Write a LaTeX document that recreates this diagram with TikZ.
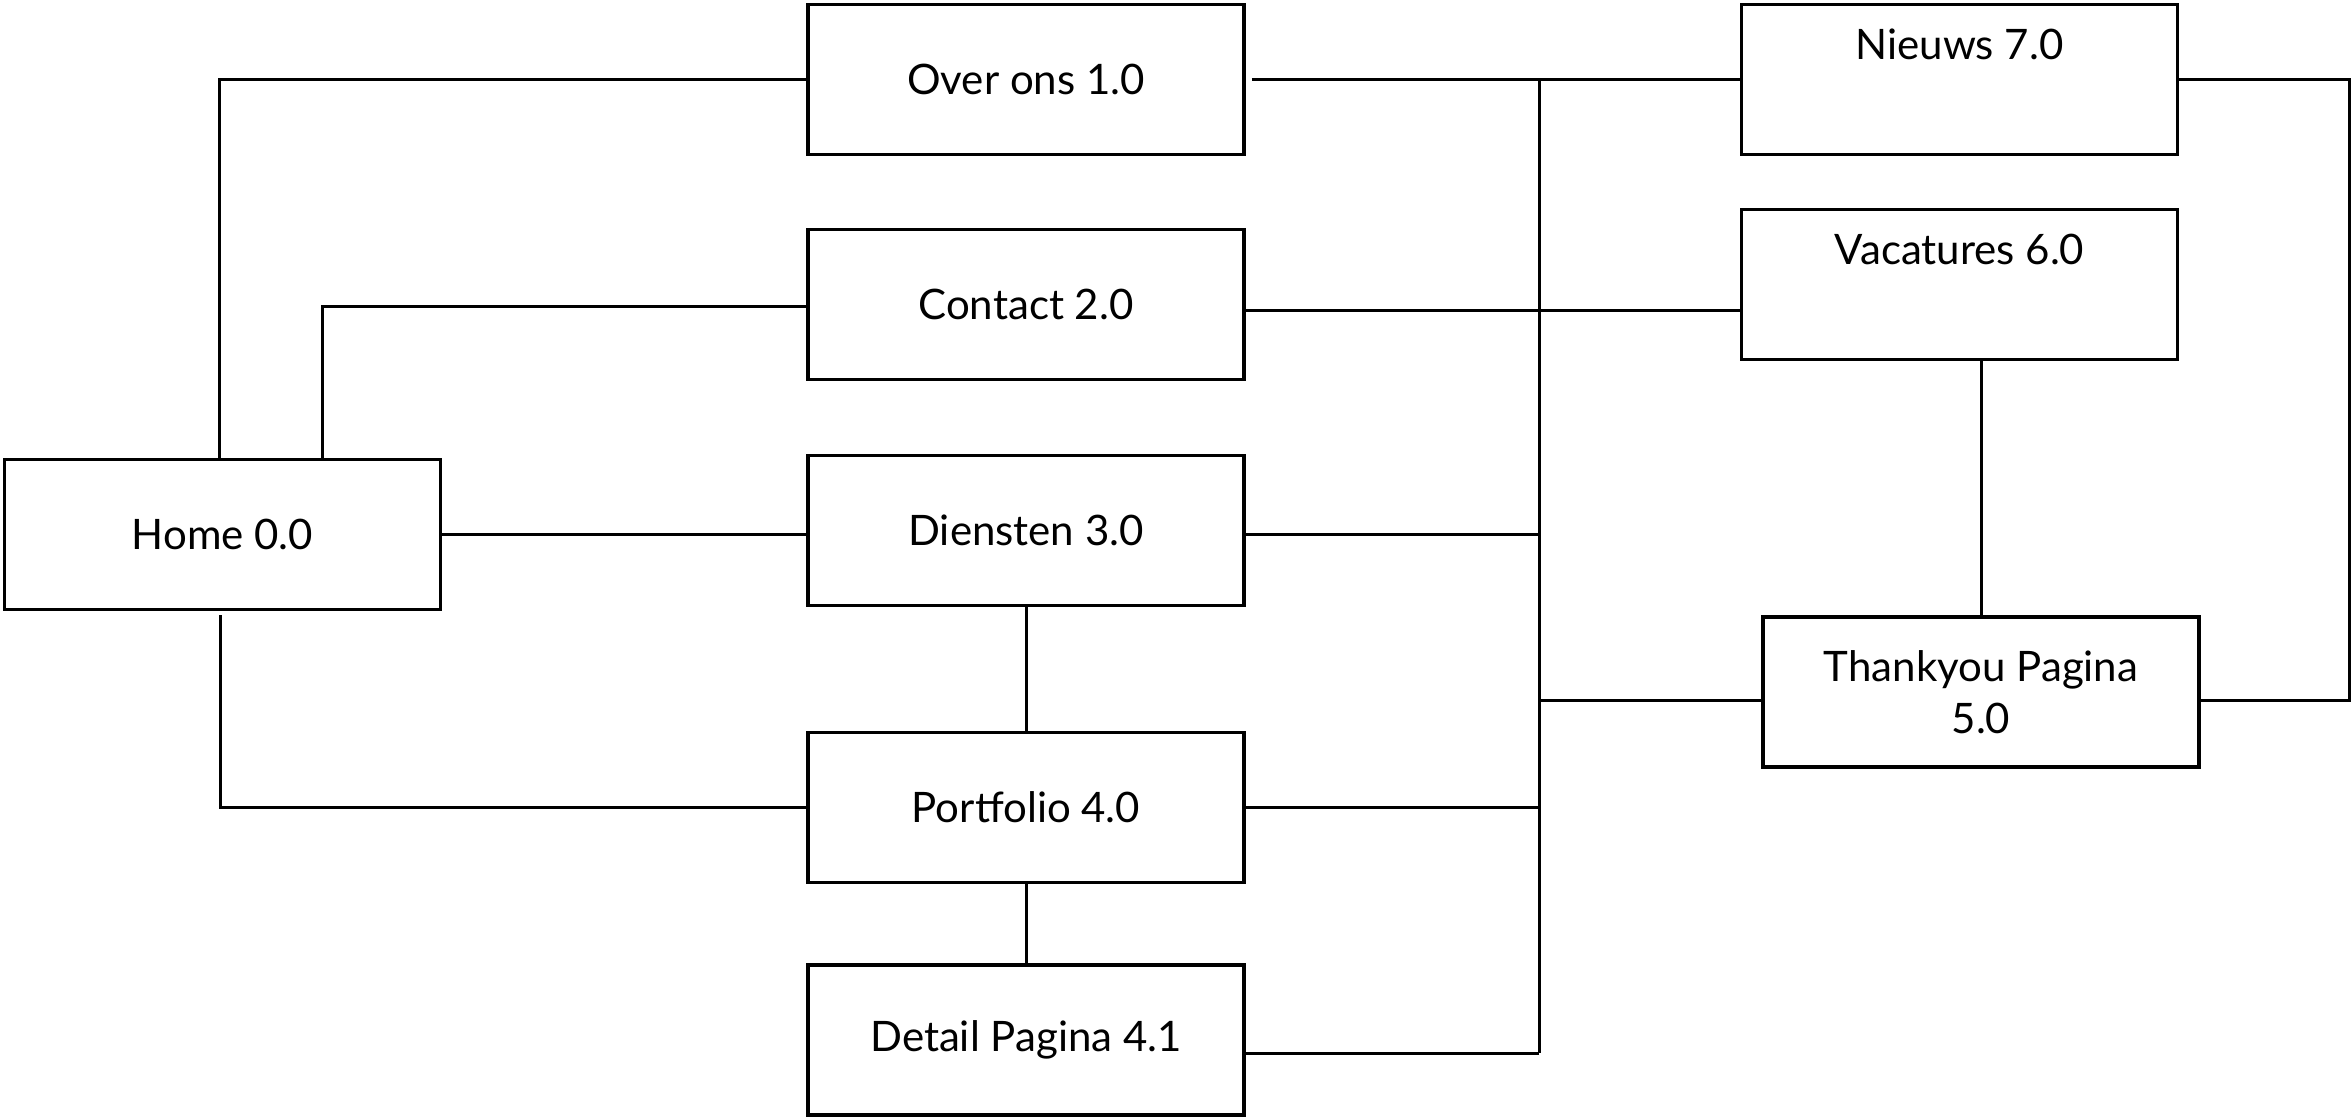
\documentclass[tikz,border=0pt]{standalone}
\usepackage{fontspec}
\setmainfont{Lato}
\begin{document}
\begin{tikzpicture}[x=1pt,y=-1pt,
  box/.style={draw, line width=3.5pt, minimum width=436pt, minimum height=150pt,
    inner sep=0pt, align=center, font=\fontsize{42}{52}\selectfont},
  toplabel/.style={label={[font=\fontsize{42}{52}\selectfont, anchor=north, inner sep=0pt, yshift=-26pt]north:#1}},
  link/.style={line width=3pt}]
\useasboundingbox (0,0) rectangle (2351,1118);
\node[box] (home) at (222.5,534.5) {Home 0.0};
\node[box] (over) at (1026,79.5) {Over ons 1.0};
\node[box] (contact) at (1026,304.5) {Contact 2.0};
\node[box] (diensten) at (1026,530.5) {Diensten 3.0};
\node[box] (portfolio) at (1026,807.5) {Portfolio 4.0};
\node[box] (detail) at (1026,1040) {Detail Pagina 4.1};
\node[box, toplabel={Nieuws 7.0}] (nieuws) at (1959.5,79.5) {};
\node[box, toplabel={Vacatures 6.0}] (vac) at (1959.5,284.5) {};
\node[box] (thank) at (1981,692) {Thankyou Pagina\\5.0};
\coordinate (bustop) at (1539,79.5);
\coordinate (busbot) at (1539,1053);
\coordinate (rc) at (2349,79.5);
\draw[link] ([xshift=-3.5pt]home.north) |- (over.west);
\draw[link] ([xshift=99.5pt]home.north) |- ([yshift=-1.5pt]contact.west);
\draw[link] (home.east) -- (home.east -| diensten.west);
\draw[link] ([xshift=-2.5pt,yshift=-4pt]home.south) |- (portfolio.west);
\draw[link] ([xshift=6pt]over.east) -- (nieuws.west);
\draw[link] (bustop) -- (busbot);
\draw[link] ([yshift=-6pt]contact.east) -- ([yshift=-6pt]contact.east -| vac.west);
\draw[link] (home.east -| diensten.east) -- (home.east -| bustop);
\draw[link] ([yshift=-8pt]thank.west) -- ([yshift=-8pt]thank.west -| bustop);
\draw[link] (portfolio.east) -- (portfolio.east -| bustop);
\draw[link] ([yshift=-13pt]detail.east) -- (busbot);
\draw[link] (diensten.south) -- (portfolio.north);
\draw[link] (portfolio.south) -- (detail.north);
\draw[link] (thank.north |- vac.south) -- (thank.north);
\draw[link] (nieuws.east) -- (rc) |- ([yshift=-8pt]thank.east);
\end{tikzpicture}
\end{document}
